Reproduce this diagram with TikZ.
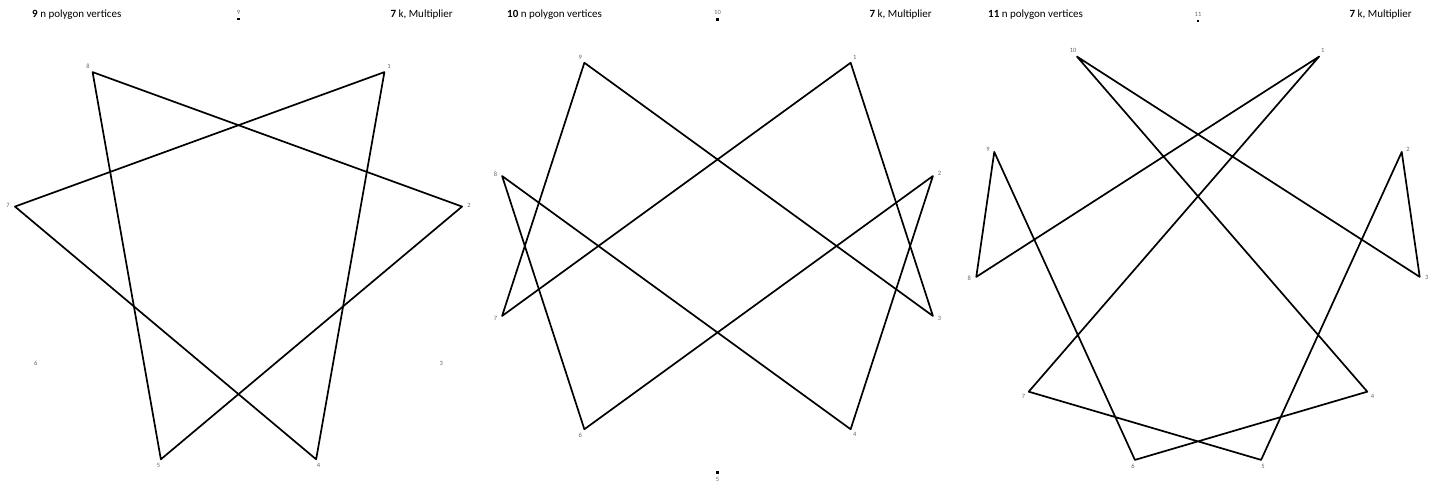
\documentclass[tikz,border=0pt]{standalone}
\usepackage{fontspec}
\setmainfont{Carlito}

\tikzset{
  edge/.style={line width=1.7pt, black, line join=round},
  vlabel/.style={font=\fontsize{6.5}{7}\selectfont, text=black!60, inner sep=0pt},
  header/.style={font=\fontsize{11}{13}\selectfont, inner sep=0pt},
  vdot/.style={fill=black, minimum size=2.2pt, inner sep=0pt}
}

\begin{document}
\begin{tikzpicture}[x=1pt,y=1pt]

	\useasboundingbox (0,0) rectangle (1430,481);

	% headers
	\node[header, anchor=base west] (na) at (32,463) {\textbf{9} n polygon vertices};
	\node[header, anchor=base east] (ka) at (453,463) {\textbf{7} k, Multiplier};
	\node[header, anchor=base west] (nb) at (507,463) {\textbf{10} n polygon vertices};
	\node[header, anchor=base east] (kb) at (932,463) {\textbf{7} k, Multiplier};
	\node[header, anchor=base west] (nc) at (988,463) {\textbf{11} n polygon vertices};
	\node[header, anchor=base east] (kc) at (1412,463) {\textbf{7} k, Multiplier};

	% 9 vertices
	\begin{scope}[shift={(238.5,235)}]
		\foreach \i in {1,...,9} {
			\coordinate (a\i) at ({90-\i*40}:227);
			\node[vlabel] (la\i) at ({90-\i*40}:234) {\i};
		}
		\draw[edge] (a1) -- (a4) -- (a7) -- cycle;
		\draw[edge] (a2) -- (a5) -- (a8) -- cycle;
		\node[vdot] (da9) at (a9) {};
	\end{scope}

	% 10 vertices
	\begin{scope}[shift={(717.5,235)}]
		\foreach \i in {1,...,10} {
			\coordinate (b\i) at ({90-\i*36}:226.5);
			\node[vlabel] (lb\i) at ({90-\i*36}:233.5) {\i};
		}
		\draw[edge] (b1) -- (b3) -- (b9) -- (b7) -- cycle;
		\draw[edge] (b2) -- (b4) -- (b8) -- (b6) -- cycle;
		\node[vdot] (db10) at (b10) {};
		\node[vdot] (db5) at (b5) {};
	\end{scope}

	% 11 vertices
	\begin{scope}[shift={(1198,236)}]
		\foreach \i in {1,...,11} {
			\coordinate (c\i) at ({90-\i*360/11}:224);
			\node[vlabel] (lc\i) at ({90-\i*360/11}:231) {\i};
		}
		\draw[edge] (c1) -- (c7) -- (c5) -- (c2) -- (c3) -- (c10) -- (c4) -- (c6) -- (c9) -- (c8) -- cycle;
		\node[vdot] (dc11) at (c11) {};
	\end{scope}

\end{tikzpicture}
\end{document}
